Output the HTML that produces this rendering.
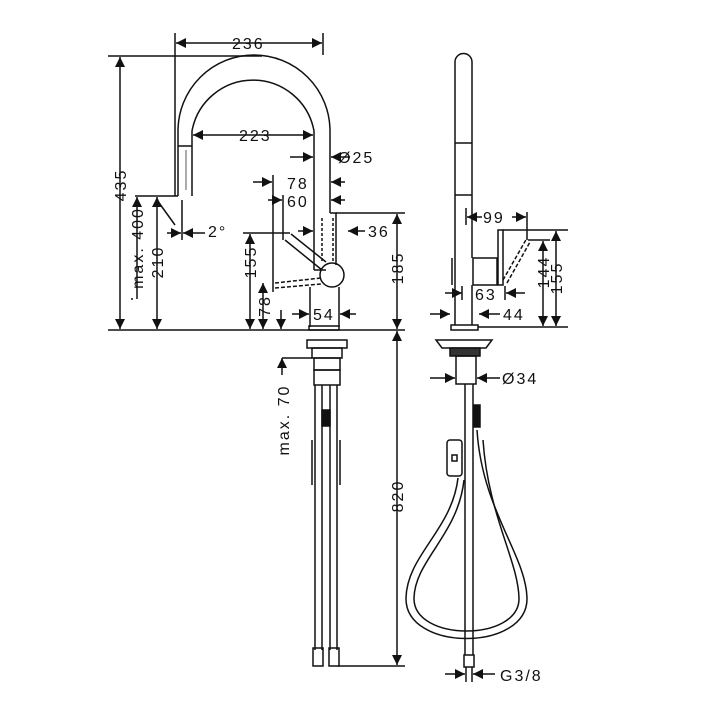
<!DOCTYPE html>
<html><head><meta charset="utf-8"><style>body{margin:0;background:#fff}svg{display:block}text{font-family:"Liberation Sans",sans-serif;font-size:16px;fill:#111;letter-spacing:2px}</style></head><body>
<svg width="720" height="720" viewBox="0 0 720 720" xmlns="http://www.w3.org/2000/svg">
<defs>
<marker id="a" viewBox="0 0 10 10" refX="10" refY="5" markerWidth="10" markerHeight="10" orient="auto-start-reverse" markerUnits="userSpaceOnUse"><path d="M0,0L10,5L0,10z" fill="#111"/></marker>
</defs>
<g stroke="#111" stroke-width="1.5" fill="none">
<path d="M178,196 V131 A76,76 0 0 1 330,131 V213"/>
<path d="M192,196 V131 A62,62 0 0 1 314,131 V270"/>
<line x1="178" y1="146" x2="192" y2="146"/>
<line x1="186" y1="150" x2="186" y2="190" stroke-width="0.7"/>
<path d="M330,213 H336 V265"/>
<path d="M314,270 H326"/>
<line x1="322" y1="218" x2="322" y2="262" stroke-dasharray="3,2"/>
<line x1="333" y1="218" x2="333" y2="262" stroke-dasharray="3,2"/>
<circle cx="332" cy="275" r="12"/>
<path d="M310,287 V327 M339,287 V327"/>
<rect x="309" y="326" width="30" height="4"/>
<path d="M285,240 L322,270 M291,234 L326,262"/>
<path d="M275,283 L321,278 M275,288 L321,284" stroke-dasharray="4,2"/>
<rect x="307" y="340" width="40" height="8"/>
<rect x="312" y="348" width="30" height="10"/>
<rect x="314" y="358" width="26" height="12"/>
<rect x="314" y="370" width="26" height="15"/>
<path d="M315,385 V650 M322,385 V650 M330,385 V650 M337,385 V650"/>
<rect x="322" y="410" width="8" height="16" fill="#111"/>
<path d="M312,440 V485 M340,440 V485"/>
<rect x="313" y="648" width="10" height="18"/><rect x="329" y="648" width="10" height="18"/>
<line x1="108" y1="330" x2="405" y2="330"/>
<line x1="108" y1="56" x2="262" y2="56"/>
<line x1="175" y1="33" x2="175" y2="196"/><line x1="323" y1="33" x2="323" y2="55"/>
<line x1="135" y1="196" x2="178" y2="196"/>
<line x1="336" y1="213" x2="405" y2="213"/>
<line x1="273" y1="175" x2="273" y2="292"/><line x1="283" y1="195" x2="283" y2="240"/>
<line x1="243" y1="233" x2="290" y2="233"/>
<line x1="338" y1="666" x2="405" y2="666"/>
<line x1="182" y1="200" x2="182" y2="240"/>
<line x1="157" y1="200" x2="175" y2="225"/>
<line x1="176" y1="43" x2="322" y2="43" marker-start="url(#a)" marker-end="url(#a)"/>
<line x1="120" y1="57" x2="120" y2="329" marker-start="url(#a)" marker-end="url(#a)"/>
<line x1="137" y1="197" x2="137" y2="299" marker-start="url(#a)"/>
<line x1="132" y1="298" x2="132" y2="300"/>
<line x1="157" y1="197" x2="157" y2="329" marker-start="url(#a)" marker-end="url(#a)"/>
<line x1="193" y1="135" x2="313" y2="135" marker-start="url(#a)" marker-end="url(#a)"/>
<line x1="167" y1="233" x2="181" y2="233" marker-end="url(#a)"/>
<line x1="205" y1="233" x2="183" y2="233" marker-end="url(#a)"/>
<line x1="290" y1="157" x2="313" y2="157" marker-end="url(#a)"/>
<line x1="350" y1="157" x2="331" y2="157" marker-end="url(#a)"/>
<line x1="253" y1="182" x2="272" y2="182" marker-end="url(#a)"/>
<line x1="345" y1="182" x2="331" y2="182" marker-end="url(#a)"/>
<line x1="268" y1="200" x2="282" y2="200" marker-end="url(#a)"/>
<line x1="345" y1="200" x2="331" y2="200" marker-end="url(#a)"/>
<line x1="298" y1="231" x2="313" y2="231" marker-end="url(#a)"/>
<line x1="365" y1="231" x2="348" y2="231" marker-end="url(#a)"/>
<line x1="397" y1="214" x2="397" y2="329" marker-start="url(#a)" marker-end="url(#a)"/>
<line x1="250" y1="234" x2="250" y2="329" marker-start="url(#a)" marker-end="url(#a)"/>
<line x1="263" y1="283" x2="263" y2="329" marker-start="url(#a)" marker-end="url(#a)"/>
<line x1="281" y1="310" x2="281" y2="329" marker-end="url(#a)"/>
<line x1="292" y1="314" x2="309" y2="314" marker-end="url(#a)"/>
<line x1="356" y1="314" x2="340" y2="314" marker-end="url(#a)"/>
<line x1="397" y1="331" x2="397" y2="665" marker-start="url(#a)" marker-end="url(#a)"/>
<line x1="282" y1="358" x2="282" y2="375" marker-start="url(#a)"/>
<line x1="282" y1="358" x2="312" y2="358"/>
<path d="M455,325 V62 A8.5,8.5 0 0 1 472,62 V258"/>
<line x1="455" y1="143" x2="472" y2="143"/><line x1="455" y1="195" x2="472" y2="195"/>
<path d="M472,285 V325"/>
<rect x="473" y="258" width="24" height="27"/>
<path d="M452,258 V285"/>
<rect x="498" y="230" width="5" height="55"/>
<path d="M503,280 L527,238 M507,283 L530,242" stroke-dasharray="4,2"/>
<rect x="451" y="325" width="27" height="5"/>
<path d="M436,340 H492 L486,348 H442 Z"/>
<rect x="450" y="348" width="30" height="8" fill="#333"/>
<rect x="456" y="356" width="20" height="28"/>
<path d="M465,384 V655 M473,384 V655"/>
<rect x="474" y="405" width="6" height="22" fill="#111"/>
<rect x="447" y="440" width="15" height="36" rx="3"/>
<rect x="452" y="455" width="5" height="6"/>
<path d="M458,478 C452,530 407,555 406,598 C405,652 528,652 527,598 C526,555 482,510 477,430"/>
<path d="M464,480 C458,535 415,560 414,598 C413,642 520,642 519,598 C518,560 488,515 483,440"/>
<rect x="464" y="655" width="10" height="12"/>
<path d="M466,667 V682 M472,667 V682"/>
<line x1="527" y1="212" x2="527" y2="240"/>
<line x1="503" y1="230" x2="568" y2="230"/>
<line x1="528" y1="240" x2="550" y2="240"/>
<line x1="478" y1="327" x2="568" y2="327"/>
<line x1="466" y1="208" x2="466" y2="225"/>
<line x1="467" y1="217" x2="482" y2="217" marker-start="url(#a)"/>
<line x1="512" y1="217" x2="526" y2="217" marker-end="url(#a)"/>
<line x1="556" y1="231" x2="556" y2="326" marker-start="url(#a)" marker-end="url(#a)"/>
<line x1="543" y1="241" x2="543" y2="326" marker-start="url(#a)" marker-end="url(#a)"/>
<line x1="445" y1="293" x2="462" y2="293" marker-end="url(#a)"/>
<line x1="525" y1="293" x2="506" y2="293" marker-end="url(#a)"/>
<line x1="462" y1="286" x2="462" y2="300"/><line x1="505" y1="286" x2="505" y2="300"/>
<line x1="430" y1="314" x2="450" y2="314" marker-end="url(#a)"/>
<line x1="500" y1="314" x2="479" y2="314" marker-end="url(#a)"/>
<line x1="430" y1="378" x2="455" y2="378" marker-end="url(#a)"/>
<line x1="500" y1="378" x2="477" y2="378" marker-end="url(#a)"/>
<line x1="445" y1="674" x2="465" y2="674" marker-end="url(#a)"/>
<line x1="495" y1="674" x2="473" y2="674" marker-end="url(#a)"/>
</g>
<g>
<text x="232" y="49">236</text>
<text x="239" y="141">223</text>
<text x="338" y="163">Ø25</text>
<text x="287" y="189">78</text>
<text x="287" y="207">60</text>
<text x="368" y="237">36</text>
<text x="313" y="320">54</text>
<text x="208" y="237">2°</text>
<text transform="translate(126,185) rotate(-90)" text-anchor="middle">435</text>
<text transform="translate(143,248) rotate(-90)" text-anchor="middle">max. 400</text>
<text transform="translate(163,262) rotate(-90)" text-anchor="middle">210</text>
<text transform="translate(256,262) rotate(-90)" text-anchor="middle">155</text>
<text transform="translate(270,306) rotate(-90)" text-anchor="middle">78</text>
<text transform="translate(403,268) rotate(-90)" text-anchor="middle">185</text>
<text transform="translate(403,496) rotate(-90)" text-anchor="middle">820</text>
<text transform="translate(289,420) rotate(-90)" text-anchor="middle">max. 70</text>
<text x="483" y="223">99</text>
<text x="475" y="300">63</text>
<text x="503" y="320">44</text>
<text x="502" y="384">Ø34</text>
<text x="500" y="681">G3/8</text>
<text transform="translate(549,272) rotate(-90)" text-anchor="middle">144</text>
<text transform="translate(562,278) rotate(-90)" text-anchor="middle">155</text>
</g>
</svg>
</body></html>
